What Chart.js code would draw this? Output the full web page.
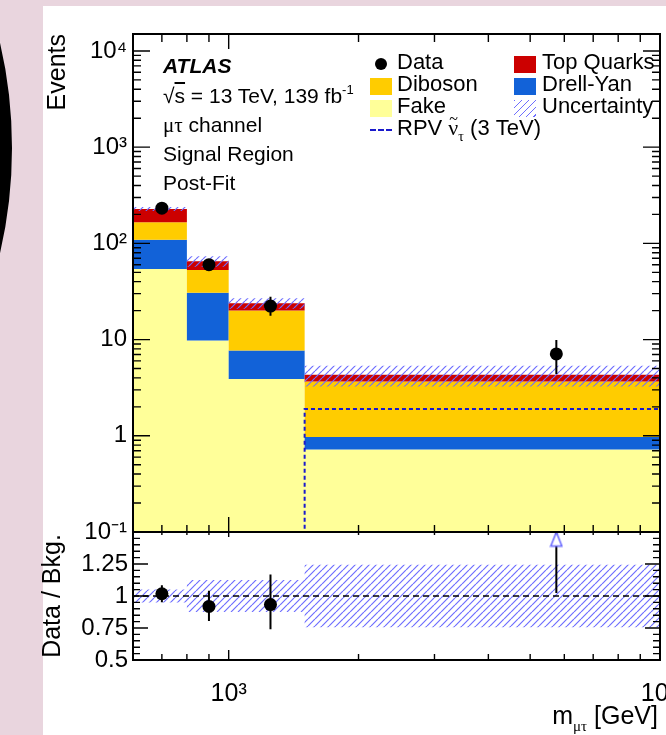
<!DOCTYPE html>
<html>
<head>
<meta charset="utf-8">
<script src="https://cdn.jsdelivr.net/npm/chart.js@4.4.1/dist/chart.umd.min.js"></script>
<style>
  html, body { margin: 0; padding: 0; overflow: hidden; }
  body { width: 666px; height: 735px; position: relative; background: #e9d5de; font-family: "Liberation Sans", Arial, sans-serif; color: #000; }
  #ring { position: absolute; left: -918px; top: -317px; width: 930px; height: 930px; box-sizing: border-box; border: 15px solid #000; border-radius: 50%; }
  #panel { position: absolute; left: 43px; top: 6px; right: 0; bottom: 0; background: #fff; }
  canvas { position: absolute; left: 0; }
  #mainChart { top: 0; }
  #ratioChart { top: 500px; }
  .t { position: absolute; font-size: 21px; line-height: 21px; white-space: nowrap; }
  .lg { font-size: 22px; }
  .sw { position: absolute; width: 22px; height: 17px; }
  .sup { font-size: 13px; position: relative; top: -9px; }
  .sub { font-size: 14px; position: relative; top: 6px; }
  .gr { font-family: "Liberation Serif", "DejaVu Serif", serif; }
  .tilde { position: relative; display: inline-block; }
  .tilde i { position: absolute; left: 1px; top: -9px; font-style: normal; font-size: 16px; }
</style>
</head>
<body>
<div id="ring"></div>
<div id="panel"></div>
<canvas id="mainChart" width="700" height="560"></canvas>
<canvas id="ratioChart" width="700" height="235"></canvas>

<!-- ATLAS label block -->
<div class="t" style="left:163px;top:55px;font-weight:bold;font-style:italic">ATLAS</div>
<div class="t" style="left:163px;top:85px">√<span style="text-decoration:overline">s</span> = 13 TeV, 139 fb<span class="sup">-1</span></div>
<div class="t" style="left:163px;top:114px"><span class="gr">μτ</span> channel</div>
<div class="t" style="left:163px;top:143px">Signal Region</div>
<div class="t" style="left:163px;top:172px">Post-Fit</div>

<!-- legend -->
<div style="position:absolute;left:375px;top:58px;width:12px;height:12px;border-radius:50%;background:#000"></div>
<div class="t lg" style="left:397px;top:51px">Data</div>
<div class="sw" style="left:370px;top:78px;background:#ffcc00"></div>
<div class="t lg" style="left:397px;top:73px">Diboson</div>
<div class="sw" style="left:370px;top:100px;background:#ffff99"></div>
<div class="t lg" style="left:397px;top:95px">Fake</div>
<div style="position:absolute;left:370px;top:129px;width:22px;border-top:2px dashed #1a1acc"></div>
<div class="t lg" style="left:397px;top:117px">RPV <span class="tilde gr">ν<i>~</i></span><span class="sub gr">τ</span> (3 TeV)</div>
<div class="sw" style="left:514px;top:56px;background:#cc0000"></div>
<div class="t lg" style="left:542px;top:51px">Top Quarks</div>
<div class="sw" style="left:514px;top:78px;background:#1262d8"></div>
<div class="t lg" style="left:542px;top:73px">Drell-Yan</div>
<div class="sw" style="left:514px;top:100px;background:repeating-linear-gradient(135deg, #6e6eff 0 1.2px, transparent 1.2px 5px)"></div>
<div class="t lg" style="left:542px;top:95px">Uncertainty</div>

<!-- x axis title -->
<div class="t" style="right:8px;top:703px;font-size:25px;line-height:25px">m<span class="sub gr" style="font-size:15px;top:7px">μτ</span> [GeV]</div>

<script>
// mu-tau signal region, post-fit
const binEdges = [600, 800, 1000, 1500, 10000];
const fakeEvents = [54, 9.8, 3.9, 0.72];
const drellYanEvents = [55, 20.8, 3.8, 0.25];
const dibosonEvents = [57, 22.4, 12.3, 2.7];
const topQuarkEvents = [62, 12.3, 3.9, 0.63];
const signalEvents = [0, 0, 0, 1.9];
const dataEvents = [232, 60, 22.3, 7.1];
const dataLow = [217, 52.5, 17.7, 4.4];
const dataHigh = [247, 68, 27.9, 9.9];
const bkgRelUnc = [0.05, 0.125, 0.125, 0.245];

const yTickValues = [0.1, 1, 10, 100, 1000, 10000];
const yTickLabels = ['10⁻¹', '1', '10', '10²', '10³', '10⁴'];
const ratioTickValues = [0.5, 0.75, 1, 1.25];
const ratioTickLabels = ['0.5', '0.75', '1', '1.25'];
const xTickValues = [1000, 10000];
const xTickLabels = ['10³', '10⁴'];

const X_MIN = 600, X_MAX = 10000;
const Y_MIN = 0.1, Y_MAX = 15000;
const R_MIN = 0.5, R_MAX = 1.5;

Chart.defaults.font.family = '"Liberation Sans", Arial, sans-serif';
Chart.defaults.color = '#000';

// helpers
const steps = vals => binEdges.map((e, i) => ({ x: e, y: vals[Math.min(i, vals.length - 1)] }));
const cum = (...series) => series[0].map((_, i) => series.reduce((s, a) => s + a[i], 0));
const centers = binEdges.slice(0, -1).map((e, i) => (e + binEdges[i + 1]) / 2);
const errorBars = (lo, hi) => centers.flatMap((c, i) => [{ x: c, y: lo[i] }, { x: c, y: hi[i] }, { x: c, y: null }]);
// empty bins sit on the axis floor, like ROOT does on a log axis
const floorLog = vals => vals.map(v => Math.max(v, Y_MIN));

function hatch(color) {
  const s = 7;
  const c = document.createElement('canvas');
  c.width = c.height = s;
  const g = c.getContext('2d');
  g.strokeStyle = color;
  g.lineWidth = 1.2;
  g.beginPath();
  for (const o of [-s, 0, s]) { g.moveTo(o, s); g.lineTo(o + s, 0); }
  g.stroke();
  return g.createPattern(c, 'repeat');
}
const hatchFill = hatch('#6e6eff');

function arrowMarker() {
  const c = document.createElement('canvas');
  c.width = 14; c.height = 17;
  const g = c.getContext('2d');
  g.beginPath();
  g.moveTo(7, 1.5); g.lineTo(12.5, 15.5); g.lineTo(1.5, 15.5); g.closePath();
  g.fillStyle = '#fff'; g.fill();
  g.strokeStyle = '#6b6bff'; g.lineWidth = 1.6; g.stroke();
  return c;
}

function logTicks(min, max) {
  const out = [];
  for (let d = Math.floor(Math.log10(min)); d <= Math.ceil(Math.log10(max)); d++) {
    for (let m = 1; m < 10; m++) {
      const v = m * Math.pow(10, d);
      if (v >= min * 0.999 && v <= max * 1.001) out.push({ v, major: m === 1 });
    }
  }
  return out;
}
const ratioMinor = [];
for (let k = 0; k <= 20; k++) ratioMinor.push({ v: R_MIN + k * 0.05, major: k % 5 === 0 });

// ROOT style inward ticks + frame
const innerTicks = {
  id: 'innerTicks',
  afterDatasetsDraw(chart, args, o) {
    const { ctx, chartArea: a, scales: { x, y } } = chart;
    ctx.save();
    ctx.strokeStyle = '#000';
    ctx.lineWidth = 1.4;
    ctx.beginPath();
    for (const t of o.xTicks) {
      const px = x.getPixelForValue(t.v);
      const top = t.major ? o.topMajor : o.topMinor;
      const bot = t.major ? o.botMajor : o.botMinor;
      ctx.moveTo(px, a.top); ctx.lineTo(px, a.top + top);
      ctx.moveTo(px, a.bottom); ctx.lineTo(px, a.bottom - bot);
    }
    for (const t of o.yTicks) {
      const py = y.getPixelForValue(t.v);
      const len = t.major ? o.yMajor : o.yMinor;
      ctx.moveTo(a.left, py); ctx.lineTo(a.left + len, py);
      ctx.moveTo(a.right, py); ctx.lineTo(a.right - len, py);
    }
    ctx.stroke();
    ctx.lineWidth = o.frame;
    ctx.strokeRect(a.left, a.top, a.right - a.left, a.bottom - a.top);
    ctx.restore();
  }
};

const layer = (vals, color, fill, order) => ({
  data: steps(vals), stepped: true, fill, order,
  backgroundColor: color, borderColor: 'rgba(0,0,0,0)', borderWidth: 0, pointRadius: 0
});

// main panel
const stack1 = fakeEvents;
const stack2 = cum(fakeEvents, drellYanEvents);
const stack3 = cum(fakeEvents, drellYanEvents, dibosonEvents);
const totalBkg = cum(fakeEvents, drellYanEvents, dibosonEvents, topQuarkEvents);

new Chart(document.getElementById('mainChart'), {
  type: 'line',
  data: {
    datasets: [
      layer(stack1, '#ffff99', 'start', 9),
      layer(stack2, '#1262d8', 0, 8),
      layer(stack3, '#ffcc00', 1, 7),
      layer(totalBkg, '#cc0000', 2, 6),
      layer(totalBkg.map((v, i) => v * (1 + bkgRelUnc[i])), hatchFill, 5, 4),
      layer(totalBkg.map((v, i) => v * (1 - bkgRelUnc[i])), 'rgba(0,0,0,0)', false, 5),
      { data: steps(floorLog(signalEvents)), stepped: true, fill: false, order: 3, clip: 2,
        borderColor: '#1a1acc', borderWidth: 2, borderDash: [4, 3], pointRadius: 0 },
      { data: errorBars(dataLow, dataHigh), spanGaps: false, order: 2,
        borderColor: '#000', borderWidth: 2, pointRadius: 0, fill: false },
      { data: centers.map((c, i) => ({ x: c, y: dataEvents[i] })), showLine: false, order: 1,
        pointRadius: 6.5, pointBackgroundColor: '#000', pointBorderWidth: 0 }
    ]
  },
  options: {
    responsive: false, animation: false, devicePixelRatio: 1,
    layout: { padding: { left: 0, right: 40, top: 34, bottom: 28 } },
    plugins: {
      legend: { display: false }, tooltip: { enabled: false },
      innerTicks: {
        xTicks: logTicks(X_MIN, X_MAX), yTicks: logTicks(Y_MIN, Y_MAX), frame: 2,
        topMajor: 15, topMinor: 8, botMajor: 15, botMinor: 7, yMajor: 17, yMinor: 8
      }
    },
    scales: {
      x: { type: 'logarithmic', min: X_MIN, max: X_MAX, display: false },
      y: {
        type: 'logarithmic', min: Y_MIN, max: Y_MAX,
        afterFit: s => { s.width = 133; },
        afterBuildTicks: s => { s.ticks = yTickValues.map(v => ({ value: v })); },
        grid: { display: false, drawTicks: false },
        border: { display: false },
        ticks: { autoSkip: false, padding: 6, font: { size: 24 },
          callback: v => yTickLabels[yTickValues.indexOf(v)] },
        title: { display: true, text: 'Events', align: 'end', font: { size: 25 }, padding: { top: 43 } }
      }
    }
  },
  plugins: [innerTicks]
});

// ratio panel
const ratio = dataEvents.map((v, i) => v / totalBkg[i]);
const ratioLow = dataLow.map((v, i) => v / totalBkg[i]);
const ratioHigh = dataHigh.map((v, i) => v / totalBkg[i]);
const arrowY = R_MAX - 0.055;
const arrows = centers.filter((c, i) => ratio[i] > R_MAX).map(c => ({ x: c, y: arrowY }));

new Chart(document.getElementById('ratioChart'), {
  type: 'line',
  data: {
    datasets: [
      layer(bkgRelUnc.map(u => 1 + u), hatchFill, 1, 6),
      layer(bkgRelUnc.map(u => 1 - u), 'rgba(0,0,0,0)', false, 5),
      { data: [{ x: X_MIN, y: 1 }, { x: X_MAX, y: 1 }], order: 4, fill: false,
        borderColor: '#000', borderWidth: 1.5, borderDash: [6, 4], pointRadius: 0 },
      { data: errorBars(ratioLow, ratioHigh), spanGaps: false, order: 3,
        borderColor: '#000', borderWidth: 2, pointRadius: 0, fill: false },
      { data: centers.map((c, i) => ({ x: c, y: ratio[i] })), showLine: false, order: 2,
        pointRadius: 6.5, pointBackgroundColor: '#000', pointBorderWidth: 0 },
      { data: arrows, showLine: false, order: 1, pointStyle: arrowMarker(), pointRadius: 8 }
    ]
  },
  options: {
    responsive: false, animation: false, devicePixelRatio: 1,
    layout: { padding: { left: 0, right: 40, top: 32, bottom: 0 } },
    plugins: {
      legend: { display: false }, tooltip: { enabled: false },
      innerTicks: {
        xTicks: logTicks(X_MIN, X_MAX), yTicks: ratioMinor, frame: 2,
        topMajor: 5, topMinor: 3, botMajor: 10, botMinor: 6, yMajor: 15, yMinor: 7
      }
    },
    scales: {
      x: {
        type: 'logarithmic', min: X_MIN, max: X_MAX,
        afterFit: s => { s.height = 75; },
        afterBuildTicks: s => { s.ticks = xTickValues.map(v => ({ value: v })); },
        grid: { display: false, drawTicks: false },
        border: { display: false },
        ticks: { autoSkip: false, maxRotation: 0, padding: 19, font: { size: 25 },
          callback: v => xTickLabels[xTickValues.indexOf(v)] }
      },
      y: {
        min: R_MIN, max: R_MAX,
        afterFit: s => { s.width = 133; },
        afterBuildTicks: s => { s.ticks = ratioTickValues.map(v => ({ value: v })); },
        grid: { display: false, drawTicks: false },
        border: { display: false },
        ticks: { autoSkip: false, padding: 5, font: { size: 24 },
          callback: v => ratioTickLabels[ratioTickValues.indexOf(v)] },
        title: { display: true, text: 'Data / Bkg.', align: 'center', font: { size: 25 }, padding: { top: 38 } }
      }
    }
  },
  plugins: [innerTicks]
});
</script>
</body>
</html>
